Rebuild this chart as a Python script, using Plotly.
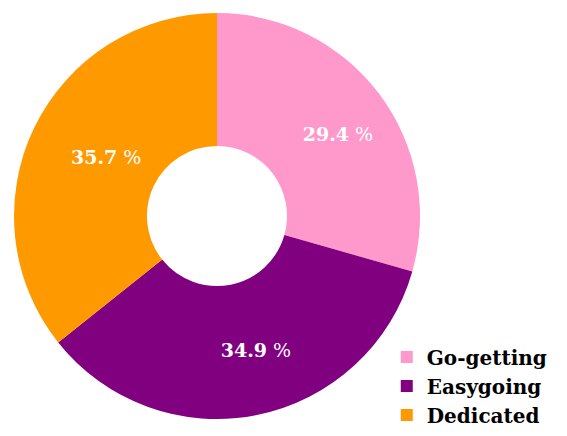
import plotly.graph_objects as go

labels = ["Go-getting", "Easygoing", "Dedicated"]
values = [29.4, 34.9, 35.7]
colors = ["#FF99CC", "#800080", "#FF9900"]

fig = go.Figure(go.Pie(
    labels=labels,
    values=values,
    marker=dict(colors=colors, line=dict(width=0)),
    hole=0.345,
    sort=False,
    direction="clockwise",
    rotation=0,
    texttemplate="&nbsp;&nbsp;&nbsp;&nbsp;<b>%{value:.1f}</b> %",
    textposition="inside",
    insidetextorientation="horizontal",
    textfont=dict(family="DejaVu Serif", size=19, color="white"),
    domain=dict(x=[6/567, 412/567], y=[1-411/436, 1-5/436]),
    showlegend=True,
))

fig.update_layout(
    width=567, height=436,
    margin=dict(l=0, r=0, t=0, b=0),
    paper_bgcolor="white",
    plot_bgcolor="white",
    font=dict(family="DejaVu Serif", color="black"),
    legend=dict(
        x=0.668, y=0.022, xanchor="left", yanchor="bottom",
        font=dict(family="DejaVu Serif", size=20, color="black", weight="bold"),
        tracegroupgap=0,
        itemwidth=30,
        bgcolor="rgba(0,0,0,0)",
    ),
)

fig.write_html("out.html")
